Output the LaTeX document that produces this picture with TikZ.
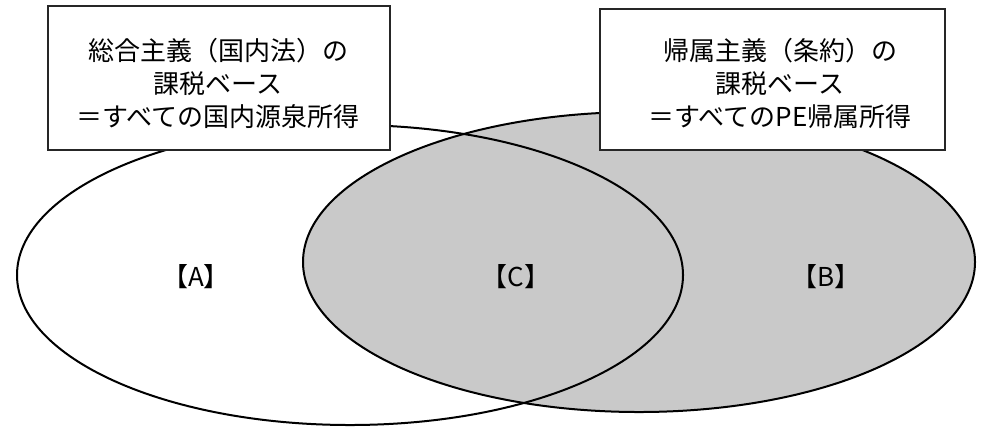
\documentclass[tikz,border=0pt]{standalone}
\usepackage{fontspec}
\newfontfamily\jp{Noto Sans CJK JP}
\usetikzlibrary{shapes.geometric}
\tikzset{
  venn/.style={ellipse, draw=black, line width=1pt, inner sep=0pt},
  shaded/.style={fill=black!21},
  boxstyle/.style={rectangle, draw=black!85, line width=0.8pt, fill=white, inner sep=0pt},
  boxtext/.style={align=center, font=\jp\fontsize{13pt}{16.5pt}\selectfont, inner sep=0pt},
  region/.style={font=\jp\fontsize{13pt}{16pt}\selectfont, inner sep=0pt}
}
\begin{document}
\begin{tikzpicture}[x=0.5pt,y=-0.5pt]
\useasboundingbox (0,0) rectangle (983,430);
\fill[white] (0,0) rectangle (983,430);
% right ellipse (shaded), then left ellipse outline on top
\node[venn, shaded, minimum width=336pt, minimum height=150pt] (ellB) at (639,262) {};
\node[venn, minimum width=333pt, minimum height=150pt] (ellA) at (350,275) {};
% boxes
\node[boxstyle, minimum width=171pt, minimum height=72pt] (boxL) at (219,78) {};
\node[boxtext] (tL) at (218,83.5) {総合主義（国内法）の\\課税ベース\\＝すべての国内源泉所得};
\node[boxstyle, minimum width=172.5pt, minimum height=70.5pt] (boxR) at (772.5,79.5) {};
\node[boxtext] (tR) at (780,83.5) {帰属主義（条約）の\\課税ベース\\＝すべてのPE帰属所得};
% region labels
\node[region] (lA) at (196,277) {【A】};
\node[region] (lC) at (516,277) {【C】};
\node[region] (lB) at (826,277) {【B】};
\end{tikzpicture}
\end{document}
